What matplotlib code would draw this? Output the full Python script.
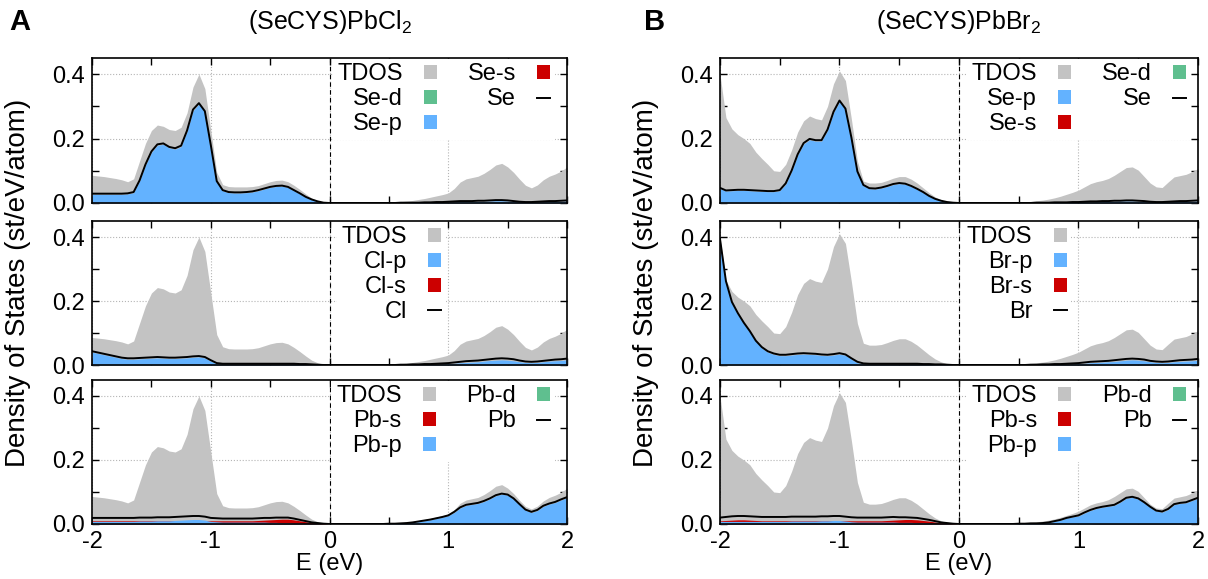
import numpy as np
import matplotlib.pyplot as plt
from matplotlib.patches import Patch
from matplotlib.lines import Line2D
from matplotlib.ticker import MultipleLocator, FormatStrFormatter

plt.rcParams['font.family'] = ['Liberation Sans', 'DejaVu Sans']
plt.rcParams['mathtext.fontset'] = 'custom'
plt.rcParams['mathtext.rm'] = 'Liberation Sans'
plt.rcParams['mathtext.default'] = 'regular'
plt.rcParams['axes.unicode_minus'] = False

# energy grid, -2 .. 2 eV in 0.05 eV steps (81 points)
energy = np.round(np.arange(-2.0, 2.0001, 0.05), 2)

# ---- (SeCYS)PbCl2 ----
tdos_cl = [0.086, 0.084, 0.082, 0.079, 0.076, 0.072, 0.066, 0.075, 0.130, 0.185,
           0.225, 0.242, 0.238, 0.228, 0.225, 0.235, 0.280, 0.360, 0.400, 0.355,
           0.225, 0.095, 0.057, 0.051, 0.050, 0.050, 0.050, 0.051, 0.054, 0.060,
           0.066, 0.070, 0.071, 0.066, 0.055, 0.042, 0.028, 0.015, 0.007, 0.002,
           0.000, 0.000, 0.000, 0.000, 0.000, 0.000, 0.000, 0.001, 0.001, 0.001,
           0.002, 0.003, 0.004, 0.006, 0.008, 0.011, 0.014, 0.018, 0.022, 0.026,
           0.031, 0.045, 0.065, 0.075, 0.079, 0.083, 0.092, 0.104, 0.118, 0.123,
           0.112, 0.095, 0.074, 0.055, 0.047, 0.056, 0.072, 0.083, 0.090, 0.099,
           0.112]
se_p_cl = [0.027, 0.027, 0.027, 0.027, 0.027, 0.027, 0.028, 0.032, 0.068, 0.117,
           0.157, 0.179, 0.182, 0.171, 0.167, 0.175, 0.222, 0.286, 0.307, 0.282,
           0.178, 0.066, 0.038, 0.032, 0.031, 0.031, 0.032, 0.034, 0.038, 0.043,
           0.048, 0.051, 0.052, 0.048, 0.038, 0.028, 0.018, 0.010, 0.004, 0.001,
           0.000, 0.000, 0.000, 0.000, 0.000, 0.000, 0.000, 0.000, 0.000, 0.000,
           0.000, 0.000, 0.000, 0.000, 0.001, 0.001, 0.001, 0.001, 0.002, 0.002,
           0.003, 0.003, 0.004, 0.004, 0.004, 0.005, 0.005, 0.006, 0.007, 0.007,
           0.006, 0.005, 0.003, 0.002, 0.002, 0.003, 0.004, 0.004, 0.005, 0.005,
           0.006]
se_cl = [0.029, 0.029, 0.029, 0.029, 0.029, 0.029, 0.030, 0.034, 0.070, 0.120,
         0.160, 0.182, 0.185, 0.174, 0.170, 0.178, 0.225, 0.290, 0.310, 0.285,
         0.180, 0.068, 0.040, 0.034, 0.033, 0.033, 0.034, 0.036, 0.040, 0.045,
         0.050, 0.053, 0.054, 0.050, 0.040, 0.030, 0.019, 0.011, 0.005, 0.001,
         0.000, 0.000, 0.000, 0.000, 0.000, 0.000, 0.000, 0.000, 0.000, 0.000,
         0.000, 0.000, 0.001, 0.001, 0.001, 0.001, 0.002, 0.002, 0.003, 0.003,
         0.004, 0.005, 0.006, 0.006, 0.006, 0.007, 0.007, 0.008, 0.009, 0.009,
         0.008, 0.006, 0.004, 0.003, 0.003, 0.004, 0.005, 0.006, 0.006, 0.007,
         0.008]
cl_p = [0.040, 0.036, 0.032, 0.028, 0.024, 0.020, 0.018, 0.018, 0.019, 0.020,
        0.021, 0.022, 0.021, 0.020, 0.020, 0.021, 0.022, 0.024, 0.025, 0.022,
        0.012, 0.004, 0.002, 0.002, 0.002, 0.002, 0.002, 0.002, 0.002, 0.002,
        0.002, 0.002, 0.002, 0.002, 0.002, 0.002, 0.001, 0.001, 0.001, 0.000,
        0.000, 0.000, 0.000, 0.000, 0.000, 0.000, 0.000, 0.000, 0.000, 0.000,
        0.000, 0.000, 0.000, 0.000, 0.001, 0.001, 0.001, 0.002, 0.002, 0.003,
        0.004, 0.005, 0.007, 0.008, 0.009, 0.010, 0.012, 0.014, 0.015, 0.016,
        0.015, 0.013, 0.010, 0.008, 0.007, 0.008, 0.010, 0.012, 0.013, 0.014,
        0.016]
cl_tot = [0.043, 0.039, 0.035, 0.031, 0.027, 0.023, 0.021, 0.021, 0.022, 0.023,
          0.024, 0.025, 0.024, 0.023, 0.023, 0.024, 0.025, 0.027, 0.028, 0.025,
          0.015, 0.006, 0.004, 0.004, 0.004, 0.004, 0.004, 0.004, 0.004, 0.004,
          0.004, 0.004, 0.004, 0.004, 0.004, 0.003, 0.003, 0.002, 0.001, 0.000,
          0.000, 0.000, 0.000, 0.000, 0.000, 0.000, 0.000, 0.000, 0.000, 0.000,
          0.000, 0.000, 0.001, 0.001, 0.002, 0.002, 0.003, 0.003, 0.004, 0.005,
          0.006, 0.008, 0.010, 0.012, 0.013, 0.014, 0.016, 0.018, 0.020, 0.021,
          0.020, 0.018, 0.014, 0.011, 0.010, 0.011, 0.013, 0.015, 0.017, 0.018,
          0.020]
pb_s_cl = [0.010, 0.010, 0.010, 0.010, 0.010, 0.010, 0.010, 0.010, 0.010, 0.010,
           0.010, 0.010, 0.010, 0.010, 0.010, 0.010, 0.010, 0.010, 0.010, 0.010,
           0.010, 0.010, 0.010, 0.010, 0.010, 0.010, 0.010, 0.010, 0.011, 0.012,
           0.013, 0.014, 0.015, 0.015, 0.013, 0.010, 0.007, 0.004, 0.002, 0.001,
           0.000, 0.000, 0.000, 0.000, 0.000, 0.000, 0.000, 0.000, 0.000, 0.000,
           0.000, 0.000, 0.000, 0.000, 0.000, 0.000, 0.000, 0.000, 0.000, 0.000,
           0.000, 0.000, 0.000, 0.001, 0.001, 0.001, 0.001, 0.001, 0.001, 0.001,
           0.001, 0.001, 0.001, 0.001, 0.001, 0.001, 0.001, 0.001, 0.001, 0.001,
           0.001]
pb_p_cl = [0.008, 0.008, 0.008, 0.008, 0.008, 0.008, 0.008, 0.008, 0.009, 0.009,
           0.009, 0.010, 0.010, 0.010, 0.011, 0.012, 0.013, 0.014, 0.014, 0.012,
           0.008, 0.007, 0.006, 0.006, 0.006, 0.006, 0.006, 0.006, 0.006, 0.006,
           0.005, 0.005, 0.004, 0.004, 0.003, 0.003, 0.002, 0.001, 0.001, 0.000,
           0.000, 0.000, 0.000, 0.000, 0.000, 0.000, 0.000, 0.000, 0.000, 0.000,
           0.001, 0.001, 0.002, 0.003, 0.005, 0.007, 0.010, 0.013, 0.017, 0.021,
           0.026, 0.036, 0.050, 0.058, 0.061, 0.064, 0.070, 0.078, 0.088, 0.093,
           0.090, 0.078, 0.060, 0.043, 0.036, 0.042, 0.055, 0.062, 0.067, 0.075,
           0.082]
pb_cl = [0.019, 0.019, 0.019, 0.019, 0.019, 0.019, 0.019, 0.019, 0.020, 0.020,
         0.020, 0.021, 0.021, 0.021, 0.022, 0.023, 0.024, 0.025, 0.025, 0.023,
         0.019, 0.018, 0.017, 0.017, 0.017, 0.017, 0.017, 0.017, 0.018, 0.019,
         0.019, 0.020, 0.020, 0.020, 0.017, 0.013, 0.009, 0.005, 0.003, 0.001,
         0.000, 0.000, 0.000, 0.000, 0.000, 0.000, 0.000, 0.000, 0.000, 0.000,
         0.001, 0.001, 0.002, 0.003, 0.005, 0.008, 0.011, 0.014, 0.018, 0.022,
         0.027, 0.038, 0.052, 0.060, 0.063, 0.066, 0.072, 0.080, 0.090, 0.095,
         0.092, 0.080, 0.062, 0.045, 0.038, 0.044, 0.057, 0.064, 0.069, 0.077,
         0.084]

# ---- (SeCYS)PbBr2 ----
tdos_br = [0.400, 0.265, 0.230, 0.212, 0.200, 0.185, 0.158, 0.138, 0.120, 0.100,
           0.098, 0.120, 0.165, 0.220, 0.255, 0.270, 0.262, 0.258, 0.300, 0.370,
           0.410, 0.380, 0.260, 0.130, 0.068, 0.062, 0.062, 0.064, 0.070, 0.077,
           0.082, 0.082, 0.074, 0.062, 0.047, 0.032, 0.019, 0.010, 0.004, 0.001,
           0.000, 0.000, 0.000, 0.000, 0.000, 0.000, 0.000, 0.001, 0.001, 0.002,
           0.003, 0.004, 0.005, 0.007, 0.009, 0.012, 0.016, 0.021, 0.027, 0.033,
           0.040, 0.050, 0.060, 0.066, 0.070, 0.076, 0.086, 0.098, 0.110, 0.112,
           0.102, 0.082, 0.062, 0.050, 0.048, 0.065, 0.081, 0.085, 0.089, 0.097,
           0.107]
se_p_br = [0.045, 0.037, 0.038, 0.039, 0.039, 0.038, 0.037, 0.036, 0.035, 0.035,
           0.038, 0.058, 0.098, 0.148, 0.183, 0.196, 0.192, 0.192, 0.225, 0.280,
           0.314, 0.290, 0.200, 0.095, 0.054, 0.044, 0.043, 0.046, 0.051, 0.057,
           0.060, 0.058, 0.051, 0.042, 0.032, 0.021, 0.012, 0.006, 0.002, 0.001,
           0.000, 0.000, 0.000, 0.000, 0.000, 0.000, 0.000, 0.000, 0.000, 0.000,
           0.000, 0.000, 0.000, 0.000, 0.000, 0.000, 0.001, 0.001, 0.001, 0.002,
           0.002, 0.003, 0.003, 0.004, 0.004, 0.005, 0.005, 0.006, 0.006, 0.006,
           0.005, 0.004, 0.003, 0.002, 0.002, 0.003, 0.004, 0.004, 0.005, 0.005,
           0.006]
se_br = [0.047, 0.039, 0.040, 0.041, 0.041, 0.040, 0.039, 0.038, 0.037, 0.037,
         0.040, 0.061, 0.101, 0.151, 0.186, 0.199, 0.195, 0.195, 0.228, 0.283,
         0.318, 0.293, 0.203, 0.098, 0.056, 0.046, 0.045, 0.048, 0.053, 0.059,
         0.062, 0.060, 0.053, 0.044, 0.034, 0.022, 0.013, 0.007, 0.003, 0.001,
         0.000, 0.000, 0.000, 0.000, 0.000, 0.000, 0.000, 0.000, 0.000, 0.000,
         0.000, 0.000, 0.000, 0.001, 0.001, 0.001, 0.002, 0.002, 0.002, 0.003,
         0.003, 0.004, 0.005, 0.005, 0.006, 0.006, 0.007, 0.007, 0.008, 0.008,
         0.007, 0.006, 0.004, 0.003, 0.003, 0.004, 0.005, 0.006, 0.006, 0.007,
         0.008]
br_p = [0.390, 0.259, 0.194, 0.159, 0.129, 0.103, 0.073, 0.053, 0.040, 0.033,
        0.029, 0.029, 0.031, 0.033, 0.034, 0.033, 0.032, 0.030, 0.029, 0.031,
        0.034, 0.030, 0.018, 0.007, 0.003, 0.002, 0.002, 0.002, 0.002, 0.002,
        0.002, 0.002, 0.002, 0.002, 0.002, 0.002, 0.001, 0.001, 0.001, 0.000,
        0.000, 0.000, 0.000, 0.000, 0.000, 0.000, 0.000, 0.000, 0.000, 0.000,
        0.000, 0.000, 0.000, 0.000, 0.001, 0.001, 0.001, 0.002, 0.002, 0.003,
        0.004, 0.005, 0.007, 0.008, 0.009, 0.010, 0.011, 0.013, 0.015, 0.016,
        0.015, 0.013, 0.010, 0.008, 0.007, 0.008, 0.010, 0.011, 0.012, 0.013,
        0.015]
br_tot = [0.395, 0.262, 0.197, 0.162, 0.132, 0.106, 0.076, 0.056, 0.043, 0.036,
          0.032, 0.032, 0.034, 0.036, 0.037, 0.036, 0.035, 0.033, 0.032, 0.034,
          0.037, 0.033, 0.021, 0.010, 0.005, 0.004, 0.004, 0.004, 0.004, 0.004,
          0.004, 0.004, 0.004, 0.004, 0.003, 0.003, 0.002, 0.002, 0.001, 0.000,
          0.000, 0.000, 0.000, 0.000, 0.000, 0.000, 0.000, 0.000, 0.000, 0.000,
          0.000, 0.000, 0.001, 0.001, 0.002, 0.002, 0.003, 0.003, 0.004, 0.005,
          0.006, 0.008, 0.010, 0.011, 0.012, 0.013, 0.015, 0.017, 0.019, 0.020,
          0.019, 0.017, 0.013, 0.011, 0.010, 0.011, 0.013, 0.015, 0.016, 0.017,
          0.019]
pb_s_br = [0.010, 0.011, 0.012, 0.013, 0.013, 0.012, 0.011, 0.010, 0.010, 0.010,
           0.010, 0.010, 0.010, 0.010, 0.010, 0.010, 0.010, 0.010, 0.010, 0.010,
           0.010, 0.010, 0.010, 0.010, 0.010, 0.010, 0.010, 0.010, 0.011, 0.012,
           0.013, 0.014, 0.014, 0.013, 0.011, 0.009, 0.006, 0.003, 0.002, 0.001,
           0.000, 0.000, 0.000, 0.000, 0.000, 0.000, 0.000, 0.000, 0.000, 0.000,
           0.000, 0.000, 0.000, 0.000, 0.000, 0.000, 0.000, 0.000, 0.000, 0.000,
           0.000, 0.000, 0.000, 0.001, 0.001, 0.001, 0.001, 0.001, 0.001, 0.001,
           0.001, 0.001, 0.001, 0.001, 0.001, 0.001, 0.001, 0.001, 0.001, 0.001,
           0.001]
pb_p_br = [0.008, 0.008, 0.008, 0.008, 0.008, 0.008, 0.008, 0.008, 0.008, 0.008,
           0.008, 0.008, 0.009, 0.009, 0.009, 0.009, 0.009, 0.010, 0.010, 0.011,
           0.011, 0.009, 0.007, 0.006, 0.006, 0.006, 0.006, 0.006, 0.006, 0.006,
           0.005, 0.005, 0.005, 0.004, 0.004, 0.003, 0.002, 0.001, 0.001, 0.000,
           0.000, 0.000, 0.000, 0.000, 0.000, 0.000, 0.000, 0.000, 0.000, 0.000,
           0.001, 0.001, 0.002, 0.002, 0.003, 0.005, 0.008, 0.012, 0.018, 0.022,
           0.025, 0.034, 0.042, 0.048, 0.052, 0.055, 0.058, 0.068, 0.080, 0.083,
           0.078, 0.066, 0.052, 0.040, 0.037, 0.045, 0.060, 0.064, 0.066, 0.073,
           0.080]
pb_br = [0.020, 0.022, 0.024, 0.025, 0.025, 0.024, 0.023, 0.022, 0.022, 0.022,
         0.022, 0.022, 0.023, 0.023, 0.023, 0.023, 0.023, 0.024, 0.024, 0.025,
         0.025, 0.023, 0.021, 0.020, 0.020, 0.020, 0.020, 0.020, 0.021, 0.022,
         0.021, 0.021, 0.020, 0.019, 0.016, 0.013, 0.009, 0.005, 0.003, 0.001,
         0.000, 0.000, 0.000, 0.000, 0.000, 0.000, 0.000, 0.000, 0.000, 0.000,
         0.001, 0.001, 0.002, 0.002, 0.003, 0.005, 0.009, 0.013, 0.019, 0.023,
         0.027, 0.036, 0.044, 0.050, 0.054, 0.057, 0.060, 0.070, 0.082, 0.085,
         0.080, 0.068, 0.054, 0.042, 0.039, 0.047, 0.062, 0.066, 0.068, 0.075,
         0.082]

GRAY = '#c3c3c3'
BLUE = '#63b2ff'
RED = '#cc0000'
GREEN = '#5fbf8f'
FS = 17


def sq(color):
    return Patch(facecolor=color, edgecolor='none')


def draw_panel(ax, tdos, fills, total, legend_items, ncol, anchor_x, xlabels):
    ax.fill_between(energy, 0, tdos, color=GRAY, lw=0, zorder=1)
    for vals, color in fills:
        ax.fill_between(energy, 0, vals, color=color, lw=0, zorder=2)
    ax.plot(energy, total, color='black', lw=1.4, zorder=3)
    ax.axvline(0, color='black', lw=0.8, ls=(0, (4, 3)), zorder=4)

    ax.set_xlim(-2, 2)
    ax.set_ylim(0, 0.45)
    ax.xaxis.set_major_locator(MultipleLocator(1))
    ax.xaxis.set_minor_locator(MultipleLocator(0.5))
    ax.yaxis.set_major_locator(MultipleLocator(0.2))
    ax.yaxis.set_minor_locator(MultipleLocator(0.1))
    ax.yaxis.set_major_formatter(FormatStrFormatter('%.1f'))
    ax.tick_params(which='both', direction='in', top=True, right=True,
                   length=5, width=1, labelsize=FS, pad=5)
    if not xlabels:
        ax.tick_params(labelbottom=False)
    ax.grid(True, which='major', ls=':', color='#b5b5b5', lw=0.8)
    ax.set_axisbelow(True)
    for sp in ax.spines.values():
        sp.set_linewidth(1.2)

    labels = [l for l, h in legend_items]
    handles = [h for l, h in legend_items]
    leg = ax.legend(handles, labels, ncol=ncol, loc='upper right',
                    bbox_to_anchor=(anchor_x, 0.995), markerfirst=False,
                    fontsize=FS, handlelength=0.55, handleheight=0.55,
                    handletextpad=0.9, columnspacing=1.3, labelspacing=0.12,
                    borderpad=0.2, borderaxespad=0, frameon=True,
                    fancybox=False, framealpha=1)
    leg.get_frame().set_facecolor('white')
    leg.get_frame().set_edgecolor('none')
    leg.set_zorder(5)


fig = plt.figure(figsize=(12.08, 5.79), dpi=100)

col_x = [(0.0762, 0.3932), (0.5960, 0.3957)]
row_y = [(0.6494, 0.2504), (0.3696, 0.2487), (0.0950, 0.2487)]

line = Line2D([], [], color='black', lw=1.4)

columns = [
    dict(tdos=tdos_cl,
         panels=[
             ([(se_p_cl, BLUE)], se_cl,
              [('TDOS', sq(GRAY)), ('Se-d', sq(GREEN)), ('Se-p', sq(BLUE)),
               ('Se-s', sq(RED)), ('Se', line)], 2, 0.975),
             ([(cl_p, BLUE)], cl_tot,
              [('TDOS', sq(GRAY)), ('Cl-p', sq(BLUE)), ('Cl-s', sq(RED)),
               ('Cl', line)], 1, 0.745),
             ([(pb_s_cl, RED), (pb_p_cl, BLUE)], pb_cl,
              [('TDOS', sq(GRAY)), ('Pb-s', sq(RED)), ('Pb-p', sq(BLUE)),
               ('Pb-d', sq(GREEN)), ('Pb', line)], 2, 0.975),
         ]),
    dict(tdos=tdos_br,
         panels=[
             ([(se_p_br, BLUE)], se_br,
              [('TDOS', sq(GRAY)), ('Se-p', sq(BLUE)), ('Se-s', sq(RED)),
               ('Se-d', sq(GREEN)), ('Se', line)], 2, 0.985),
             ([(br_p, BLUE)], br_tot,
              [('TDOS', sq(GRAY)), ('Br-p', sq(BLUE)), ('Br-s', sq(RED)),
               ('Br', line)], 1, 0.735),
             ([(pb_s_br, RED), (pb_p_br, BLUE)], pb_br,
              [('TDOS', sq(GRAY)), ('Pb-s', sq(RED)), ('Pb-p', sq(BLUE)),
               ('Pb-d', sq(GREEN)), ('Pb', line)], 2, 0.985),
         ]),
]

for (x0, w), col in zip(col_x, columns):
    for r, ((y0, h), panel) in enumerate(zip(row_y, col['panels'])):
        fills, total, items, ncol, ax_x = panel
        ax = fig.add_axes([x0, y0, w, h])
        draw_panel(ax, col['tdos'], fills, total, items, ncol, ax_x, r == 2)
        if r == 2:
            ax.set_xlabel('E (eV)', fontsize=FS, labelpad=0)

titles = ['(SeCYS)PbCl$_2$', '(SeCYS)PbBr$_2$']
letters = ['A', 'B']
for (x0, w), title, letter, lx in zip(col_x, titles, letters, [0.008, 0.533]):
    fig.text(x0 + w / 2, 0.962, title, fontsize=18, ha='center', va='center')
    fig.text(lx, 0.962, letter, fontsize=21, fontweight='bold',
             ha='left', va='center')
    fig.text(x0 - 0.061, 0.512, 'Density of States (st/eV/atom)',
             fontsize=20, rotation=90, ha='center', va='center')

fig.savefig('out.png', dpi=100)
